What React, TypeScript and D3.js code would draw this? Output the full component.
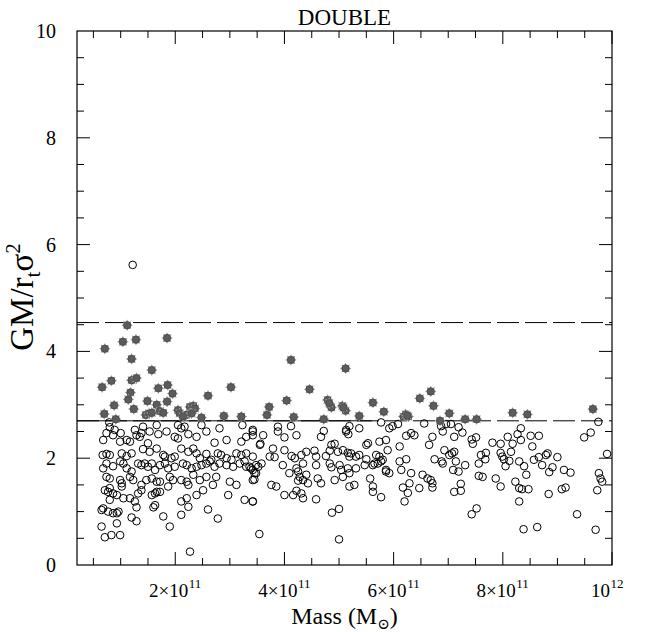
import React from "react";
import * as d3 from "d3";

// Mass in units of 1e11 Msun, ratio GM/(r_t sigma^2)
const starMass = [1.12,0.71,1.04,1.28,1.85,1.20,1.57,0.66,0.83,1.20,1.29,1.18,1.14,1.69,1.86,1.95,1.85,1.49,1.66,0.88,1.24,0.70,0.91,1.46,1.52,1.57,1.72,1.78,2.05,2.08,2.27,2.33,2.36,2.60,3.02,2.48,2.89,3.21,2.20,2.14,2.30,4.12,5.12,4.46,4.04,3.72,3.68,4.17,4.79,4.86,4.82,5.06,5.12,5.08,4.72,5.37,5.62,5.82,6.18,6.22,6.27,6.25,6.48,6.68,6.73,6.85,7.02,7.31,7.52,8.18,8.45,9.65];
const starRatio = [4.49,4.05,4.18,4.22,4.25,3.86,3.65,3.33,3.45,3.46,3.50,3.23,3.10,3.31,3.37,3.21,3.06,3.07,3.00,2.99,2.92,2.83,2.73,2.81,2.84,2.85,2.88,2.85,2.90,2.84,2.96,2.98,2.93,3.17,3.33,2.76,2.79,2.78,2.81,2.78,2.84,3.84,3.68,3.29,3.08,2.96,2.81,2.77,3.09,2.95,3.03,2.98,2.89,2.95,2.73,2.79,3.04,2.87,2.78,2.82,2.78,2.80,3.12,3.25,2.98,2.70,2.84,2.73,2.73,2.85,2.82,2.92];

const circleMass = [
1.22,
0.74,0.86,1.00,1.11,1.29,1.38,1.53,1.69,1.84,1.99,2.05,2.24,2.39,2.57,2.72,2.94,3.21,3.30,3.42,0.68,0.99,1.17,1.35,1.50,
0.67,0.74,0.80,1.02,1.11,1.20,1.41,1.53,1.66,1.78,1.81,1.93,1.99,2.11,2.24,2.33,2.39,2.45,2.57,2.66,2.78,2.84,2.94,3.03,3.12,3.21,3.30,3.27,3.42,3.55,
0.68,0.74,0.86,0.99,1.05,1.11,1.20,1.32,1.38,1.44,1.50,1.57,1.63,1.72,1.81,1.87,1.99,2.14,2.21,2.30,2.39,2.48,2.57,2.63,2.72,2.81,2.94,3.06,3.18,3.30,3.39,3.48,
0.74,0.80,0.99,1.02,1.17,1.23,1.38,1.47,1.57,1.66,1.72,1.90,1.96,2.11,2.21,2.24,2.33,2.45,2.57,2.69,2.75,3.00,3.12,3.42,3.48,
0.71,0.77,0.80,0.86,0.93,0.80,1.02,1.05,1.17,1.26,1.32,1.38,1.57,1.63,1.66,1.72,1.87,2.11,2.21,2.39,2.51,2.97,3.27,3.42,
0.65,0.68,0.77,0.86,0.93,0.96,1.20,1.29,1.60,1.63,1.78,2.11,2.24,2.60,2.78,
0.65,0.71,0.83,0.93,0.99,1.29,1.90,3.54,2.27,
3.42,3.61,3.56,3.88,4.00,4.22,4.67,4.72,5.13,5.17,5.50,5.53,5.74,5.86,6.11,6.23,6.32,6.38,6.71,6.65,6.90,
3.79,3.73,3.82,4.00,4.13,4.19,4.31,4.40,4.34,4.55,4.58,4.76,4.83,4.86,4.92,4.98,5.07,5.16,5.22,5.19,5.31,5.37,5.50,5.62,5.65,5.68,5.74,5.71,5.77,5.80,5.89,5.86,6.11,6.14,6.23,6.32,6.53,6.62,6.68,6.71,6.71,6.75,6.90,6.93,7.02,
3.36,3.42,3.45,3.52,3.58,3.45,3.97,4.09,4.22,4.25,4.28,4.25,4.34,4.40,4.43,4.58,4.61,4.67,4.83,4.86,4.92,5.01,5.07,5.04,5.16,5.19,5.19,5.28,5.31,5.47,5.57,5.62,5.62,5.86,5.92,6.17,6.26,6.29,6.47,
3.76,3.85,4.00,4.16,4.22,4.31,4.34,4.58,5.77,6.20,3.42,
4.87,5.00,5.00,
7.11,7.26,7.43,7.45,7.51,7.81,7.96,8.09,8.18,8.27,8.33,8.51,8.66,8.54,9.49,9.61,
7.07,7.11,7.14,7.31,7.09,7.19,7.56,7.60,7.69,7.68,7.96,7.99,8.02,8.05,8.12,8.15,8.30,8.39,8.57,8.66,8.72,8.79,8.82,8.85,8.91,9.00,9.12,9.24,9.91,9.76,9.79,9.82,6.88,
7.23,7.11,7.23,7.56,7.63,7.87,7.96,8.23,8.30,8.35,8.43,8.47,8.84,9.08,9.15,9.73,8.30,7.52,7.43,9.36,8.38,8.63,9.70,
0.79,0.80,1.41,1.66,2.05,2.11,2.17,2.48,2.81,3.23,1.26,0.89,
3.88,4.12,5.19,5.37,5.77,5.92,5.98,6.08,6.56,6.87,6.96,3.42,5.13,
7.05,7.19,8.33,9.75
];
const circleRatio = [
5.62,
2.47,2.43,2.47,2.34,2.43,2.47,2.50,2.45,2.50,2.40,2.37,2.45,2.40,2.50,2.29,2.34,2.31,2.40,2.50,2.34,2.31,2.31,2.40,2.28,
2.06,2.08,2.06,2.09,2.04,2.09,2.17,2.12,2.18,2.06,2.03,2.00,2.03,2.18,2.12,2.18,2.09,2.00,2.08,1.97,2.09,2.06,2.00,1.97,2.09,2.06,2.09,1.94,2.03,2.25,
1.81,1.90,1.85,1.94,1.90,1.81,1.75,1.90,1.87,1.90,1.84,1.90,1.78,1.87,1.90,1.81,1.84,1.90,1.87,1.81,1.84,1.87,1.90,1.94,1.84,1.90,1.87,1.84,1.90,1.84,1.81,1.87,
1.65,1.62,1.59,1.53,1.65,1.59,1.50,1.59,1.62,1.56,1.56,1.65,1.59,1.59,1.56,1.50,1.69,1.59,1.65,1.50,1.65,1.56,1.50,1.59,1.72,
1.40,1.37,1.44,1.34,1.31,1.22,1.47,1.25,1.25,1.19,1.34,1.40,1.31,1.34,1.37,1.37,1.47,1.19,1.25,1.31,1.40,1.31,1.22,1.19,
1.03,1.06,1.00,0.97,0.97,1.00,0.89,1.08,1.08,1.12,0.91,0.94,1.09,1.04,0.87,
0.72,0.52,0.56,0.78,0.56,0.82,0.72,0.58,0.25,
2.43,2.43,2.27,2.50,2.39,2.43,2.40,2.51,2.50,2.45,2.25,2.28,2.31,2.34,2.22,2.42,2.47,2.43,2.40,2.25,2.50,
2.18,2.03,2.02,2.15,2.04,2.00,2.06,2.12,1.90,2.14,2.03,2.04,2.14,2.25,2.27,2.12,2.15,2.10,2.09,2.03,2.03,2.06,1.98,1.87,1.90,2.06,2.03,1.90,1.94,1.97,2.15,1.75,1.94,1.78,1.98,1.72,1.69,1.62,1.59,1.53,1.45,1.98,1.90,2.15,2.06,
1.84,1.78,1.72,1.84,1.90,1.60,1.87,1.72,1.81,1.75,1.65,1.58,1.59,1.69,1.53,1.87,1.62,1.53,1.90,1.83,1.59,1.87,1.65,1.78,1.81,1.72,1.47,1.50,1.81,1.87,1.62,1.47,1.37,1.78,1.72,1.45,1.35,1.53,1.44,
1.50,1.47,1.31,1.31,1.39,1.34,1.25,1.23,1.27,1.19,1.19,
0.98,1.05,0.48,
2.40,2.48,2.35,2.27,2.39,2.29,2.27,2.40,2.27,2.45,2.34,2.42,2.42,2.22,2.39,2.48,
2.09,2.12,1.94,1.87,1.78,1.75,1.90,2.06,2.10,1.98,2.10,2.03,1.98,1.85,1.95,2.12,1.94,1.85,1.97,2.02,1.87,2.06,2.09,1.74,1.83,2.02,1.78,1.73,2.08,1.72,1.62,1.56,1.94,
1.52,1.37,1.39,1.67,1.65,1.62,1.47,1.56,1.44,1.42,1.69,1.42,1.33,1.42,1.45,1.40,1.19,1.06,0.95,0.95,0.67,0.71,0.66,
2.67,2.58,2.59,2.62,2.62,2.56,2.59,2.62,2.56,2.62,2.53,2.53,
2.59,2.60,2.60,2.56,2.67,2.56,2.60,2.64,2.65,2.60,2.64,2.53,2.53,
2.64,2.58,2.56,2.68
];

const xTickMajor = [2, 4, 6, 8];
const xTickLabelsMant = ["2", "4", "6", "8"];
const yTickMajor = [0, 2, 4, 6, 8, 10];
const upperLine = 4.54;
const lowerLine = 2.70;
const lowerSolidEnd = 5.6;

const W = 658, H = 632;
const L = 77, R = 612, T = 31, B = 565;
const FONT = "'Liberation Serif', 'DejaVu Serif', serif";

function starPath(r1: number, r2: number, n: number) {
  const pts: string[] = [];
  for (let i = 0; i < n * 2; i++) {
    const r = i % 2 === 0 ? r1 : r2;
    const a = (Math.PI * i) / n - Math.PI / 2;
    pts.push(`${(r * Math.cos(a)).toFixed(2)},${(r * Math.sin(a)).toFixed(2)}`);
  }
  return "M" + pts.join("L") + "Z";
}

export default function App() {
  const x = d3.scaleLinear().domain([0.2, 10]).range([L, R]);
  const y = d3.scaleLinear().domain([0, 10]).range([B, T]);
  const xMinor = d3.range(0.5, 10.01, 0.5);
  const yMinor = d3.range(0.5, 10, 0.5);
  const sp = starPath(5.8, 3.6, 8);

  return (
    <svg width={W} height={H} style={{ position: "absolute", left: 0, top: 0, background: "#fff" }} fontFamily={FONT}>
      <rect x={0} y={0} width={W} height={H} fill="#fff" />
      {/* ticks */}
      <g stroke="#000" strokeWidth={1}>
        {xMinor.map((t) => {
          const major = Math.abs(t % 2) < 1e-6;
          const len = major ? 13 : 7;
          return (
            <g key={"xt" + t}>
              <line x1={x(t)} x2={x(t)} y1={B} y2={B - len} />
              <line x1={x(t)} x2={x(t)} y1={T} y2={T + len} />
            </g>
          );
        })}
        {yMinor.map((t) => {
          const major = Math.abs(t % 2) < 1e-6;
          const len = major ? 13 : 7;
          return (
            <g key={"yt" + t}>
              <line x1={L} x2={L + len} y1={y(t)} y2={y(t)} />
              <line x1={R} x2={R - len} y1={y(t)} y2={y(t)} />
            </g>
          );
        })}
      </g>
      {/* reference lines */}
      <line x1={L} x2={R} y1={y(upperLine)} y2={y(upperLine)} stroke="#000" strokeWidth={1} strokeDasharray="22 6" />
      <line x1={L} x2={R} y1={y(lowerLine)} y2={y(lowerLine)} stroke="#000" strokeWidth={1} strokeDasharray="22 6" />
      <line x1={L} x2={x(lowerSolidEnd)} y1={y(lowerLine)} y2={y(lowerLine)} stroke="#000" strokeWidth={1} />
      {/* open circles */}
      <g fill="none" stroke="#000" strokeWidth={1}>
        {circleMass.map((m, i) => (
          <circle key={"c" + i} cx={x(m)} cy={y(circleRatio[i])} r={3.8} />
        ))}
      </g>
      {/* stars */}
      <g>
        {starMass.map((m, i) => (
          <g key={"s" + i} transform={`translate(${x(m)},${y(starRatio[i])})`}>
            <path d={sp} fill="#a0a0a0" />
            <circle r={3.7} fill="#5c5c5c" stroke="#3a3a3a" strokeWidth={0.6} />
          </g>
        ))}
      </g>
      {/* frame */}
      <rect x={L} y={T} width={R - L} height={B - T} fill="none" stroke="#000" strokeWidth={1.2} />
      {/* y tick labels */}
      <g fontSize={20} textAnchor="end" fill="#000">
        {yTickMajor.map((t) => (
          <text key={"yl" + t} x={L - 21} y={y(t) + 7}>{t}</text>
        ))}
      </g>
      {/* x tick labels: mantissa and exponent as separate texts */}
      <g fontSize={19} fill="#000">
        {xTickMajor.map((t, i) => (
          <g key={"xl" + t}>
            <text x={x(t) + 13} y={597} textAnchor="end">{xTickLabelsMant[i]}×10</text>
            <text x={x(t) + 13.5} y={588} fontSize={13} textAnchor="start">11</text>
          </g>
        ))}
        <text x={610} y={597} textAnchor="end">10</text>
        <text x={610.5} y={588} fontSize={13} textAnchor="start">12</text>
      </g>
      {/* title */}
      <text x={(L + R) / 2} y={25} fontSize={23} textAnchor="middle">DOUBLE</text>
      {/* x label */}
      <text x={(L + R) / 2} y={624} fontSize={24} textAnchor="middle">
        Mass (M<tspan fontSize={15} dy={5}>⊙</tspan><tspan dy={-5}>)</tspan>
      </text>
      {/* y label */}
      <text transform={`translate(33,297) rotate(-90)`} fontSize={33} textAnchor="middle">
        GM/r<tspan fontSize={21} dy={7}>t</tspan><tspan dy={-7}>σ</tspan><tspan fontSize={21} dy={-13}>2</tspan>
      </text>
    </svg>
  );
}
